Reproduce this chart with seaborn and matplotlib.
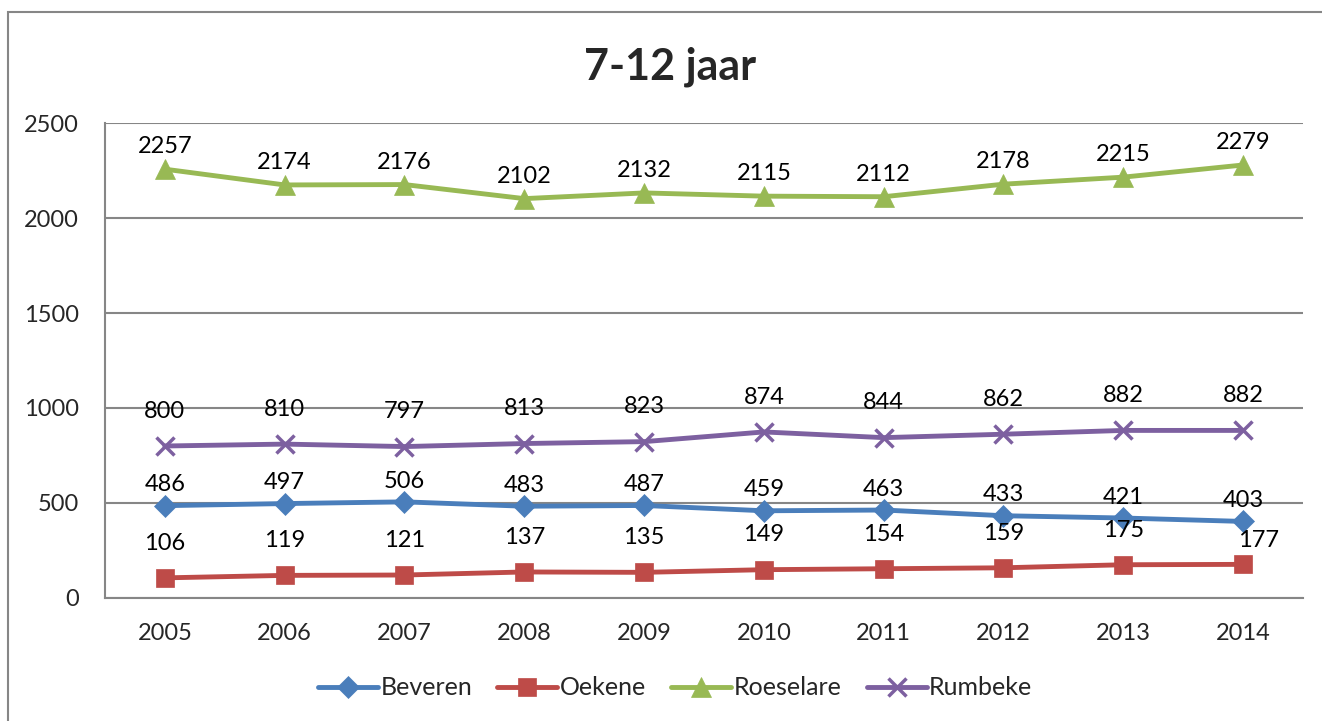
import pandas as pd
import seaborn as sns
import matplotlib.pyplot as plt
from matplotlib.patches import Rectangle

# Chart data
years = [2005, 2006, 2007, 2008, 2009, 2010, 2011, 2012, 2013, 2014]
beveren = [486, 497, 506, 483, 487, 459, 463, 433, 421, 403]
oekene = [106, 119, 121, 137, 135, 149, 154, 159, 175, 177]
roeselare = [2257, 2174, 2176, 2102, 2132, 2115, 2112, 2178, 2215, 2279]
rumbeke = [800, 810, 797, 813, 823, 874, 844, 862, 882, 882]

series_names = ['Beveren', 'Oekene', 'Roeselare', 'Rumbeke']
colors = ['#4A7EBB', '#BE4B48', '#98B954', '#7D60A0']
markers = ['D', 's', '^', 'x']
marker_sizes = [11, 13, 14, 13]
label_offsets = [15, 25, 16, 25]


def build_frame():
    rows = []
    for name, values in zip(series_names, [beveren, oekene, roeselare, rumbeke]):
        for year, value in zip(years, values):
            rows.append({'year': year, 'value': value, 'gemeente': name})
    return pd.DataFrame(rows)


def main():
    sns.set_style('white')
    plt.rcParams['font.family'] = ['Lato', 'DejaVu Sans']

    data = build_frame()

    fig = plt.figure(figsize=(13.22, 7.21), dpi=100)
    ax = fig.add_axes([0.0794, 0.1706, 0.9062, 0.6588])

    # outer chart frame (right and bottom edges fall outside the picture)
    fig.patches.append(Rectangle((8 / 1322, -0.05), 1.2, 1 - 12 / 721 + 0.05,
                                 transform=fig.transFigure, fill=False,
                                 edgecolor='#868686', linewidth=1.5))

    for i, name in enumerate(series_names):
        sub = data[data['gemeente'] == name]
        sns.lineplot(data=sub, x='year', y='value', ax=ax, color=colors[i],
                     marker=markers[i], markersize=marker_sizes[i],
                     markeredgewidth=2.5 if markers[i] == 'x' else 0.5,
                     markeredgecolor=colors[i], linewidth=3.5, label=name)

        for j, (year, value) in enumerate(zip(sub['year'], sub['value'])):
            dx = 0
            dy = label_offsets[i]
            if name == 'Oekene' and j == len(years) - 1:
                dx, dy = 11, 17
            ax.annotate(str(value), (year, value), xytext=(dx, dy),
                        textcoords='offset points', ha='center', va='center',
                        fontsize=17, color='black')

    ax.set_xlim(2004.5, 2014.5)
    ax.set_ylim(0, 2500)
    ax.set_yticks([0, 500, 1000, 1500, 2000, 2500])
    ax.set_xticks(years)
    ax.set_xticklabels([str(y) for y in years])
    ax.set_xlabel('')
    ax.set_ylabel('')
    ax.tick_params(axis='both', length=0, labelsize=17)
    ax.tick_params(axis='x', pad=18)
    ax.tick_params(axis='y', pad=19)

    ax.yaxis.grid(True, color='#868686', linewidth=1.5)
    ax.set_axisbelow(True)
    for side in ['top', 'right']:
        ax.spines[side].set_visible(False)
    for side in ['left', 'bottom']:
        ax.spines[side].set_color('#868686')
        ax.spines[side].set_linewidth(1.5)

    fig.text(0.507, 0.908, '7-12 jaar', ha='center', va='center',
             fontsize=31, fontweight='bold')

    ax.legend(loc='center', bbox_to_anchor=(0.476, -0.189), ncol=4,
              frameon=False, fontsize=18, handlelength=2.4,
              columnspacing=1.0, handletextpad=0.1)

    fig.savefig('out.png', dpi=100)


if __name__ == '__main__':
    main()
